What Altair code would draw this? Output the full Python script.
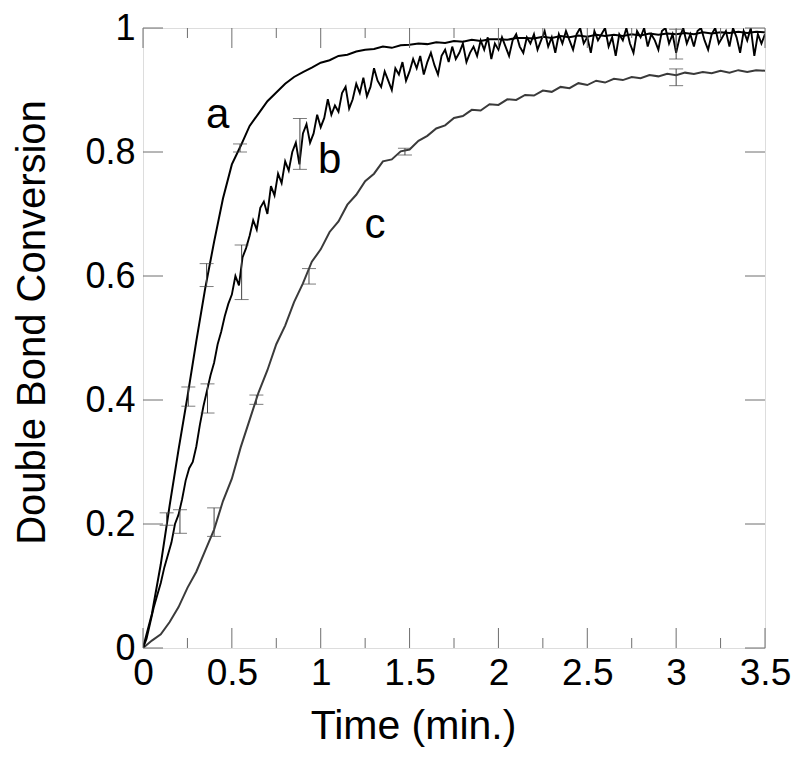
import altair as alt
import pandas as pd

# ---- data ----
a_vals = [0.00, 0.055, 0.135, 0.23, 0.32, 0.405, 0.495, 0.58, 0.655, 0.725,
          0.78, 0.81, 0.842, 0.862, 0.882, 0.896, 0.91, 0.921, 0.929, 0.936,
          0.944, 0.948, 0.955, 0.957, 0.962, 0.965, 0.966, 0.97, 0.968, 0.972,
          0.973, 0.975, 0.974, 0.977, 0.976, 0.979, 0.978, 0.981, 0.979, 0.982,
          0.982, 0.981, 0.984, 0.984, 0.983, 0.986, 0.984, 0.987, 0.985, 0.988,
          0.986, 0.989, 0.987, 0.989, 0.987, 0.99, 0.988, 0.991, 0.989, 0.991,
          0.99, 0.992, 0.99, 0.993, 0.991, 0.993, 0.992, 0.994, 0.992, 0.994, 0.993]

c_vals = [0.00, 0.012, 0.022, 0.042, 0.066, 0.097, 0.123, 0.157, 0.191, 0.237,
          0.273, 0.324, 0.368, 0.412, 0.448, 0.49, 0.52, 0.558, 0.588, 0.623,
          0.643, 0.671, 0.688, 0.715, 0.731, 0.753, 0.765, 0.785, 0.788, 0.801,
          0.804, 0.818, 0.826, 0.838, 0.843, 0.855, 0.858, 0.868, 0.867, 0.877,
          0.876, 0.885, 0.884, 0.892, 0.891, 0.899, 0.897, 0.905, 0.903, 0.911,
          0.908, 0.915, 0.912, 0.918, 0.916, 0.921, 0.919, 0.924, 0.922, 0.926,
          0.924, 0.928, 0.926, 0.929, 0.927, 0.931, 0.928, 0.932, 0.929, 0.932, 0.931]

b_vals = [0.00, 0.015, 0.04, 0.065, 0.085, 0.105, 0.13, 0.15, 0.17, 0.20,
          0.215, 0.24, 0.27, 0.29, 0.30, 0.325, 0.36, 0.39, 0.415, 0.44,
          0.46, 0.49, 0.51, 0.535, 0.555, 0.57, 0.60, 0.585, 0.63, 0.645,
          0.665, 0.69, 0.675, 0.71, 0.72, 0.70, 0.745, 0.73, 0.765, 0.75,
          0.785, 0.77, 0.80, 0.815, 0.78, 0.83, 0.845, 0.815, 0.83, 0.86,
          0.84, 0.855, 0.885, 0.86, 0.875, 0.865, 0.895, 0.905, 0.87, 0.885,
          0.91, 0.895, 0.92, 0.89, 0.905, 0.935, 0.915, 0.905, 0.93, 0.915,
          0.90, 0.935, 0.925, 0.945, 0.915, 0.93, 0.95, 0.935, 0.955, 0.925,
          0.945, 0.96, 0.94, 0.925, 0.955, 0.965, 0.945, 0.97, 0.95, 0.96,
          0.975, 0.945, 0.96, 0.97, 0.955, 0.98, 0.965, 0.985, 0.95, 0.975,
          0.965, 0.985, 0.97, 0.955, 0.98, 0.99, 0.97, 0.96, 0.985, 0.975,
          0.99, 0.965, 0.98, 0.995, 0.97, 0.985, 0.96, 0.99, 0.975, 0.995,
          0.98, 0.965, 0.99, 1.00, 0.975, 0.985, 0.96, 0.995, 0.98, 0.99,
          1.00, 0.97, 0.985, 0.955, 0.99, 0.98, 1.00, 0.975, 0.96, 0.995,
          0.985, 1.00, 0.97, 0.99, 0.98, 0.965, 0.995, 1.00, 0.975, 0.99,
          0.96, 0.985, 1.00, 0.975, 0.99, 0.97, 0.995, 1.00, 0.98, 0.965,
          0.99, 1.00, 0.975, 0.985, 0.995, 0.97, 1.00, 0.985, 0.96, 0.995,
          0.98, 1.00, 0.955, 0.99, 0.975, 0.99]

t_ac = [round(0.05 * i, 3) for i in range(len(a_vals))]
t_b = [round(0.02 * i, 3) for i in range(len(b_vals))]

eb_series = ["a", "a", "a", "a", "b", "b", "b", "b", "b", "c", "c", "c", "c", "c"]
eb_t = [0.133, 0.255, 0.358, 0.546, 0.208, 0.363, 0.555, 0.883, 3.0, 0.40, 0.638, 0.934, 1.474, 3.0]
eb_lo = [0.198, 0.390, 0.583, 0.800, 0.185, 0.379, 0.562, 0.772, 0.950, 0.180, 0.393, 0.587, 0.795, 0.907]
eb_hi = [0.218, 0.421, 0.620, 0.813, 0.223, 0.426, 0.650, 0.854, 0.998, 0.226, 0.408, 0.612, 0.806, 0.934]

label_txt = ["a", "b", "c"]
label_x = [0.42, 1.05, 1.305]
label_y = [0.86, 0.787, 0.682]

x_major = [0, 0.5, 1, 1.5, 2, 2.5, 3, 3.5]
x_minor = [0.25, 0.75, 1.25, 1.75, 2.25, 2.75, 3.25]
y_major = [0, 0.2, 0.4, 0.6, 0.8, 1]

# ---- chart ----
W, H = 622, 620
FONT = "Liberation Sans"
GREY = "#6e6e6e"

xs = alt.Scale(domain=[0, 3.5], nice=False, zero=False)
ys = alt.Scale(domain=[0, 1], nice=False, zero=False)

df_a = pd.DataFrame({"t": t_ac, "v": a_vals})
df_b = pd.DataFrame({"t": t_b, "v": b_vals})
df_c = pd.DataFrame({"t": t_ac, "v": c_vals})
df_eb = pd.DataFrame({"s": eb_series, "t": eb_t, "lo": eb_lo, "hi": eb_hi})
df_lab = pd.DataFrame({"txt": label_txt, "x": label_x, "y": label_y})
df_xM = pd.DataFrame({"v": x_major})
df_xm = pd.DataFrame({"v": x_minor})
df_yM = pd.DataFrame({"v": y_major})

x_axis = alt.Axis(values=x_major, format="~g", ticks=False, domain=False, grid=False,
                  labelFont=FONT, labelFontSize=37, labelColor="black", labelPadding=7,
                  labelFlush=False, labelOverlap=False,
                  title="Time (min.)", titleFont=FONT, titleFontSize=41,
                  titleFontWeight="normal", titleColor="black",
                  titleX=270, titleY=58, titleAlign="center", titleBaseline="top")
y_axis = alt.Axis(values=y_major, format="~g", ticks=False, domain=False, grid=False,
                  labelFont=FONT, labelFontSize=36, labelColor="black", labelPadding=8,
                  labelFlush=False, labelOverlap=False,
                  title="Double Bond Conversion", titleFont=FONT, titleFontSize=40,
                  titleFontWeight="normal", titleColor="black",
                  titleX=-99, titleY=294, titleAlign="center", titleBaseline="alphabetic",
                  titleAngle=270)

line_a = alt.Chart(df_a).mark_line(color="#000000", strokeWidth=2, clip=True).encode(
    x=alt.X("t:Q", scale=xs, axis=x_axis), y=alt.Y("v:Q", scale=ys, axis=y_axis))
line_b = alt.Chart(df_b).mark_line(color="#000000", strokeWidth=1.9, clip=True).encode(
    x=alt.X("t:Q", scale=xs), y=alt.Y("v:Q", scale=ys))
line_c = alt.Chart(df_c).mark_line(color="#3a3a3a", strokeWidth=2, clip=True).encode(
    x=alt.X("t:Q", scale=xs), y=alt.Y("v:Q", scale=ys))

eb_rule = alt.Chart(df_eb).mark_rule(color="#444444", strokeWidth=1).encode(
    x=alt.X("t:Q", scale=xs), y=alt.Y("lo:Q", scale=ys), y2="hi:Q")
eb_lo_cap = alt.Chart(df_eb).mark_tick(color="#444444", thickness=1, size=14, orient="horizontal").encode(
    x=alt.X("t:Q", scale=xs), y=alt.Y("lo:Q", scale=ys))
eb_hi_cap = alt.Chart(df_eb).mark_tick(color="#444444", thickness=1, size=14, orient="horizontal").encode(
    x=alt.X("t:Q", scale=xs), y=alt.Y("hi:Q", scale=ys))

labels = alt.Chart(df_lab).mark_text(font=FONT, fontSize=42, color="black",
                                     align="center", baseline="middle").encode(
    x=alt.X("x:Q", scale=xs), y=alt.Y("y:Q", scale=ys), text="txt:N")

def xticks(df, length):
    bot = alt.Chart(df).mark_rule(color=GREY, strokeWidth=1).encode(
        x=alt.X("v:Q", scale=xs), y=alt.value(H), y2=alt.value(H - length))
    top = alt.Chart(df).mark_rule(color=GREY, strokeWidth=1).encode(
        x=alt.X("v:Q", scale=xs), y=alt.value(0), y2=alt.value(length))
    return [bot, top]

ytick_l = alt.Chart(df_yM).mark_rule(color=GREY, strokeWidth=1).encode(
    y=alt.Y("v:Q", scale=ys), x=alt.value(0), x2=alt.value(20))
ytick_r = alt.Chart(df_yM).mark_rule(color=GREY, strokeWidth=1).encode(
    y=alt.Y("v:Q", scale=ys), x=alt.value(W), x2=alt.value(W - 20))

chart = alt.layer(
    line_c, line_b, line_a, eb_rule, eb_lo_cap, eb_hi_cap, labels,
    *xticks(df_xM, 20), *xticks(df_xm, 10), ytick_l, ytick_r,
).properties(
    width=W, height=H,
    autosize=alt.AutoSizeParams(type="none"),
    padding={"left": 135, "top": 20, "right": 27, "bottom": 112},
).configure_view(stroke=GREY, strokeWidth=1.2).configure(background="white")

chart.save("out.html", embed_options={"renderer": "svg", "actions": False})
